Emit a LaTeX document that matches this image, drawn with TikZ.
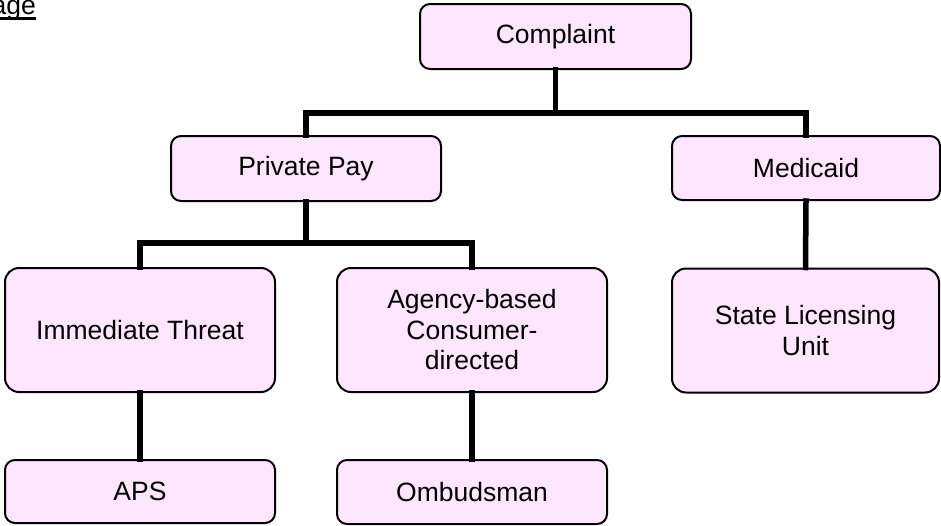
\documentclass[tikz,border=0pt]{standalone}
\usepackage{fontspec}
\setmainfont{Liberation Sans}
\definecolor{boxfill}{RGB}{255,230,255}
\tikzset{
  box/.style={draw=black, line width=2pt, fill=boxfill, inner sep=0pt,
    font=\fontsize{26.5}{30.5}\selectfont, align=center},
  shortbox/.style={box, rounded corners=10pt, minimum width=270pt, minimum height=64pt},
  tallbox/.style={box, rounded corners=14pt, minimum width=270pt, minimum height=124pt},
  conn/.style={line width=5.5pt, line join=miter, line cap=rect}
}
\begin{document}
\begin{tikzpicture}[x=1pt, y=-1pt]
\clip (0,0) rectangle (941,525);
\fill[white] (0,0) rectangle (941,525);
% cut-off heading
\node[font=\fontsize{26.5}{30}\selectfont, anchor=base east, inner sep=0pt] (hdr) at (36,14) {age};
\draw[line width=2.2pt] ([yshift=-4.5pt]hdr.base west) -- ([yshift=-4.5pt]hdr.base east);
% boxes
\node[shortbox, minimum width=271pt, minimum height=65pt] (comp) at (555.5,36.5) {Complaint};
\node[shortbox, minimum height=65pt] (pp) at (306,168.5) {Private Pay};
\node[shortbox, minimum width=268pt] (med) at (806,168) {Medicaid};
\node[tallbox] (imm) at (140,330) {Immediate Threat};
\node[tallbox] (agency) at (472,330) {Agency-based\\Consumer-\\directed};
\node[tallbox, minimum width=267pt] (state) at (805.5,330.5) {State Licensing\\Unit};
\node[shortbox, minimum height=63pt] (aps) at (140,491.5) {APS};
\node[shortbox] (omb) at (472,492) {Ombudsman};
% bus points
\coordinate (bus1) at (555.5,113);
\coordinate (bus2) at (306,243);
% connectors
\draw[conn] (comp.south) -- (bus1);
\draw[conn] (pp.north) |- (bus1) -| (med.north);
\draw[conn] (pp.south) -- (bus2);
\draw[conn] (imm.north) |- (bus2) -| (agency.north);
\draw[conn] (med.south) -- (state.north);
\draw[conn] (imm.south) -- (aps.north);
\draw[conn] (agency.south) -- (omb.north);
\end{tikzpicture}
\end{document}
